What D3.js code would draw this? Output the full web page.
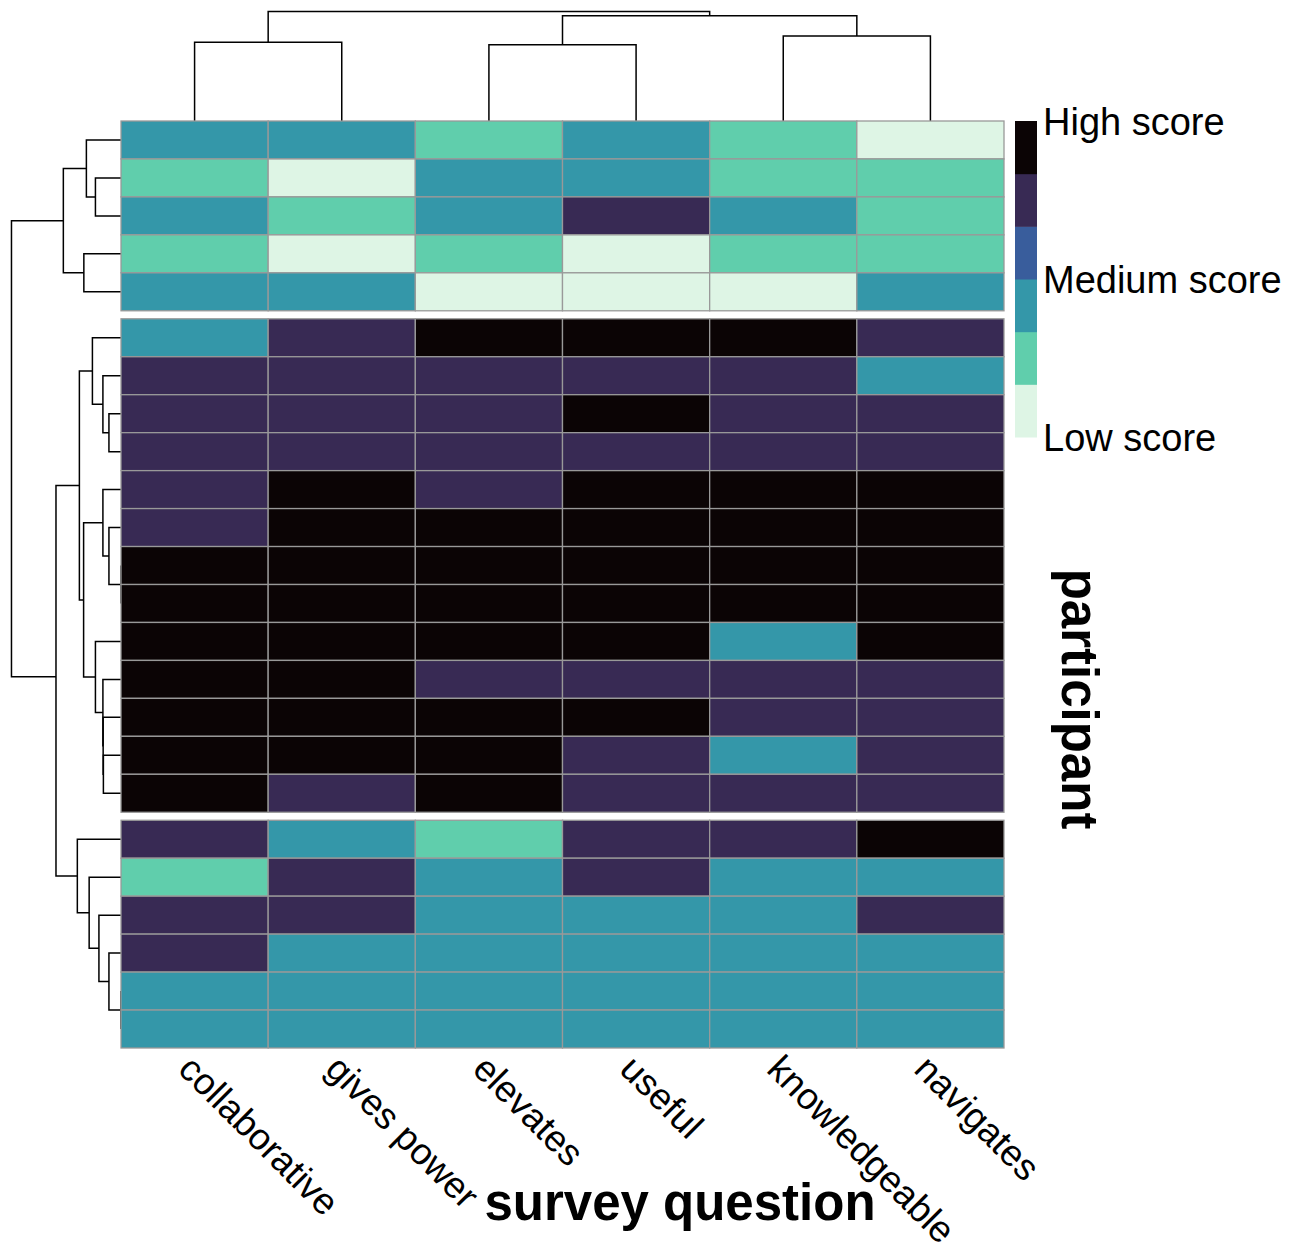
<!DOCTYPE html>
<html>
<head>
<meta charset="utf-8">
<script src="https://cdn.jsdelivr.net/npm/d3@7"></script>
<style>
	body { margin: 0; background: #fff; }
	svg text { font-family: "Liberation Sans", Arial, Helvetica, sans-serif; fill: #000; }
</style>
</head>
<body>
<svg id="chart" width="1298" height="1252"></svg>
<script>
"use strict"

// Survey questions (columns), already in dendrogram order
const questions = ["collaborative", "gives power", "elevates", "useful", "knowledgeable", "navigates"]

// Participants (rows), already in dendrogram order
const participants = d3.range(1, 25).map(i => "P" + i)

// Scores, 1 = low ... 5 = high, one array per participant
const scores = [
	[3, 3, 2, 3, 2, 1],
	[2, 1, 3, 3, 2, 2],
	[3, 2, 3, 4, 3, 2],
	[2, 1, 2, 1, 2, 2],
	[3, 3, 1, 1, 1, 3],
	[3, 4, 5, 5, 5, 4],
	[4, 4, 4, 4, 4, 3],
	[4, 4, 4, 5, 4, 4],
	[4, 4, 4, 4, 4, 4],
	[4, 5, 4, 5, 5, 5],
	[4, 5, 5, 5, 5, 5],
	[5, 5, 5, 5, 5, 5],
	[5, 5, 5, 5, 5, 5],
	[5, 5, 5, 5, 3, 5],
	[5, 5, 4, 4, 4, 4],
	[5, 5, 5, 5, 4, 4],
	[5, 5, 5, 4, 3, 4],
	[5, 4, 5, 4, 4, 4],
	[4, 3, 2, 4, 4, 5],
	[2, 4, 3, 4, 3, 3],
	[4, 4, 3, 3, 3, 4],
	[4, 3, 3, 3, 3, 3],
	[3, 3, 3, 3, 3, 3],
	[3, 3, 3, 3, 3, 3]
]

// Row tree cut in 3 clusters -> gaps after these rows
const rowGaps = [5, 18]

// hclust style merges: negative = leaf (1-based), positive = earlier merge (1-based), then height
const rowMerges = [
	[-2, -3, 2.12],
	[-1, 1, 2.87],
	[-4, -5, 3.08],
	[2, 3, 4.78],
	[-8, -9, 1.0],
	[-7, 5, 1.5],
	[-6, 6, 2.37],
	[-12, -13, 0],
	[-11, 8, 1.0],
	[-10, 9, 1.5],
	[-17, -18, 1.46],
	[-16, 11, 1.48],
	[-15, 12, 1.5],
	[-14, 13, 2.12],
	[10, 14, 3.1],
	[7, 15, 3.45],
	[-23, -24, 0],
	[-22, 17, 1.0],
	[-21, 18, 1.83],
	[-20, 19, 2.64],
	[-19, 20, 3.62],
	[16, 21, 5.39],
	[4, 22, 9.08]
]

const colMerges = [
	[-1, -2, 7.93],
	[-3, -4, 7.67],
	[-5, -6, 8.57],
	[2, 3, 10.6],
	[1, 4, 11.03]
]

// mako palette, low -> high
const paletteColors = ["#DEF5E5", "#60CEAC", "#3497A9", "#395D9C", "#382A54", "#0B0405"]
const scoreRange = [1, 5]
const legendValues = [5, 3, 1]
const legendLabels = ["High score", "Medium score", "Low score"]

// ---------------- layout ----------------
const heat = { left: 121, top: 121, right: 1004, bottom: 1048 }
const gapPx = 8
const treeHeight = 115
const nRows = scores.length
const nCols = questions.length
const cellH = (heat.bottom - heat.top - rowGaps.length * gapPx) / nRows

const svg = d3.select("#chart")

// Column positions in cell units
const xScale = d3.scaleLinear().domain([0, nCols]).range([heat.left, heat.right])
const cellW = xScale(1) - xScale(0)

// Row positions in cell units, shifted by the gaps above (pheatmap find_coordinates)
const rowScale = d3.scaleLinear().domain([0, nRows]).range([heat.top, heat.top + nRows * cellH])
const rowY = m => rowScale(m) + gapPx * rowGaps.filter(g => m > g).length

// Colour bins as pheatmap: breaks over the range, right-closed
const breaks = d3.range(paletteColors.length + 1)
	.map(i => scoreRange[0] + i * (scoreRange[1] - scoreRange[0]) / paletteColors.length)
const colorOf = v => paletteColors[Math.max(0, d3.bisectLeft(breaks, v) - 1)]

// ---------------- dendrograms ----------------
function treeNodes(merges) {
	// leaf positions at cell centres, internal node = mean of its children
	const nodes = []
	const pos = m => m < 0 ? { p: -m - 0.5, h: 0 } : nodes[m - 1]
	merges.forEach(([a, b, h]) => {
		const A = pos(a), B = pos(b)
		nodes.push({ p: (A.p + B.p) / 2, h: h, a: A, b: B })
	})
	return nodes
}

const line = d3.line()

// Rows: tree grows to the left (drawn first so the cells cover zero-height joins)
const rowNodes = treeNodes(rowMerges)
const rowH = d3.scaleLinear()
	.domain([0, d3.max(rowMerges, d => d[2]) * 1.05])
	.range([heat.left, heat.left - treeHeight])

svg.append("g")
	.attr("class", "row-tree")
	.selectAll("path")
	.data(rowNodes)
	.join("path")
	.attr("d", d => line([
		[rowH(d.a.h), rowY(d.a.p)],
		[rowH(d.h), rowY(d.a.p)],
		[rowH(d.h), rowY(d.b.p)],
		[rowH(d.b.h), rowY(d.b.p)]
	]))
	.attr("fill", "none")
	.attr("stroke", "#000")
	.attr("stroke-width", 1.5)

// Columns: tree grows upwards
const colNodes = treeNodes(colMerges)
const colH = d3.scaleLinear()
	.domain([0, d3.max(colMerges, d => d[2]) * 1.05])
	.range([heat.top, heat.top - treeHeight])

svg.append("g")
	.attr("class", "col-tree")
	.selectAll("path")
	.data(colNodes)
	.join("path")
	.attr("d", d => line([
		[xScale(d.a.p), colH(d.a.h)],
		[xScale(d.a.p), colH(d.h)],
		[xScale(d.b.p), colH(d.h)],
		[xScale(d.b.p), colH(d.b.h)]
	]))
	.attr("fill", "none")
	.attr("stroke", "#000")
	.attr("stroke-width", 1.5)

// ---------------- heatmap cells ----------------
const cells = []
scores.forEach((row, i) => row.forEach((v, j) => cells.push({ row: i, col: j, value: v })))

svg.append("g")
	.attr("class", "cells")
	.selectAll("rect")
	.data(cells)
	.join("rect")
	.attr("x", d => xScale(d.col))
	.attr("y", d => rowY(d.row + 0.5) - cellH / 2)
	.attr("width", cellW)
	.attr("height", cellH)
	.attr("fill", d => colorOf(d.value))
	.attr("stroke", "#999999")
	.attr("stroke-width", 1.3)

// ---------------- column labels ----------------
svg.append("g")
	.attr("class", "col-labels")
	.selectAll("text")
	.data(questions)
	.join("text")
	.attr("transform", (d, i) => "translate(" + (xScale(i + 0.5) - 18) + "," + (heat.bottom + 23) + ") rotate(45)")
	.style("font-size", "37px")
	.text(d => d)

// ---------------- legend ----------------
const legend = { x: 1015, width: 22, top: 121, bottom: 437 }
const legendY = d3.scaleLinear().domain(scoreRange).range([legend.bottom, legend.top])
const binH = (legend.bottom - legend.top) / paletteColors.length

svg.append("g")
	.attr("class", "legend")
	.selectAll("rect")
	.data(paletteColors)
	.join("rect")
	.attr("x", legend.x)
	.attr("y", (d, i) => legend.bottom - (i + 1) * binH)
	.attr("width", legend.width)
	.attr("height", binH + 0.5)
	.attr("fill", d => d)

svg.append("g")
	.attr("class", "legend-labels")
	.selectAll("text")
	.data(legendValues)
	.join("text")
	.attr("x", legend.x + legend.width + 6)
	.attr("y", d => legendY(d))
	.attr("dy", "0.36em")
	.style("font-size", "38px")
	.text((d, i) => legendLabels[i])

// ---------------- axis titles ----------------
svg.append("text")
	.attr("x", 680)
	.attr("y", 1220)
	.style("text-anchor", "middle")
	.style("font-size", "51px")
	.style("font-weight", "bold")
	.text("survey question")

svg.append("text")
	.attr("transform", "translate(1062,699) rotate(90)")
	.style("text-anchor", "middle")
	.style("font-size", "51px")
	.style("font-weight", "bold")
	.text("participant")
</script>
</body>
</html>
